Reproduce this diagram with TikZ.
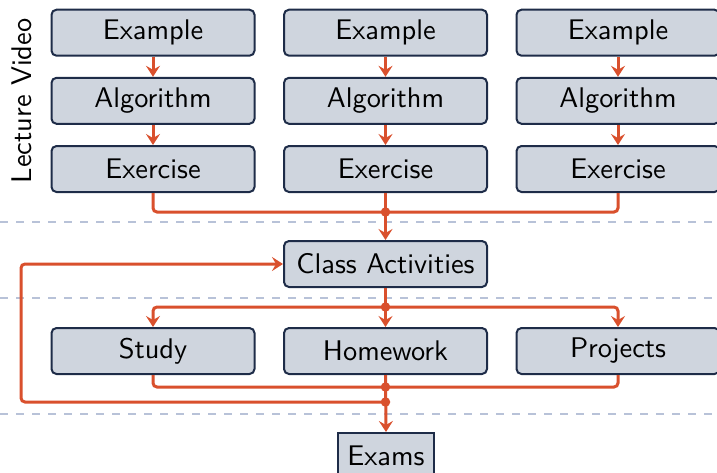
\documentclass[tikz,border=0pt]{standalone}
\usepackage{fontspec}
\usetikzlibrary{arrows.meta}
% the 10pt design of Latin Modern Sans, scaled up for the labels
\newfontfamily\labelfont{lmsans10-regular.otf}
\definecolor{boxfill}{RGB}{207,213,222}
\definecolor{boxline}{RGB}{30,44,72}
\definecolor{flow}{RGB}{217,80,45}
\definecolor{sep}{RGB}{184,194,216}
\begin{document}
\begin{tikzpicture}[x=1pt,y=-1pt,
  labeltext/.style={font=\labelfont\fontsize{28.4}{34}\selectfont},
  stagebox/.style={labeltext, draw=boxline, fill=boxfill, line width=2pt, rounded corners=5pt,
    minimum width=203pt, minimum height=46pt, inner sep=0pt},
  exambox/.style={stagebox, rounded corners=0pt, minimum width=96pt},
  flowline/.style={draw=flow, line width=3pt, rounded corners=4pt},
  flowarrow/.style={flowline, -{Stealth[length=11pt,width=14pt,inset=4pt]}},
  junction/.style={circle, fill=flow, inner sep=0pt, minimum size=9.5pt},
  separator/.style={draw=sep, line width=1.5pt, dash pattern=on 8pt off 8pt}]
  \useasboundingbox (0,0) rectangle (717,472);

  % phase separators
  \draw[separator] (0,222) -- (717,222);
  \draw[separator] (0,298) -- (717,298);
  \draw[separator] (0,414) -- (717,414);

  % lecture video columns
  \foreach \c/\x in {1/153,2/385.5,3/618} {
    \node[stagebox] (ex\c)  at (\x,32.7)  {Example};
    \node[stagebox] (alg\c) at (\x,100.8) {Algorithm};
    \node[stagebox] (exc\c) at (\x,169)   {Exercise};
    \draw[flowarrow] (ex\c) -- (alg\c);
    \draw[flowarrow] (alg\c) -- (exc\c);
  }
  \node[labeltext, rotate=90] (lv) at (22,100.8) {Lecture Video};

  \node[stagebox] (class) at (385.5,264) {Class Activities};
  \node[stagebox] (study) at (153,351) {Study};
  \node[stagebox] (hw) at (385.5,351) {Homework};
  \node[stagebox] (proj) at (618,351) {Projects};
  \node[exambox] (exams) at (386,456) {Exams};

  % junction points
  \coordinate (j1) at (385.5,212);
  \coordinate (j2) at (385.5,307);
  \coordinate (j3) at (385.5,387);
  \coordinate (j4) at (385.5,402);
  \coordinate (fb) at (21,264);

  % exercises merge into class activities
  \draw[flowline] (exc1.south) |- (j1);
  \draw[flowline] (exc3.south) |- (j1);
  \draw[flowarrow] (exc2.south) -- (class.north);

  % class activities split into study, homework, projects
  \draw[flowarrow] (j2) -| (study.north);
  \draw[flowarrow] (j2) -| (proj.north);
  \draw[flowarrow] (class.south) -- (hw.north);

  % merge into exams, with feedback to class activities
  \draw[flowline] (study.south) |- (j3);
  \draw[flowline] (proj.south) |- (j3);
  \draw[flowarrow] (j4) -| (fb) -- (class.west);
  \draw[flowarrow] (hw.south) -- (exams.north);

  \foreach \j in {j1,j2,j3,j4} \node[junction] at (\j) {};
\end{tikzpicture}
\end{document}
